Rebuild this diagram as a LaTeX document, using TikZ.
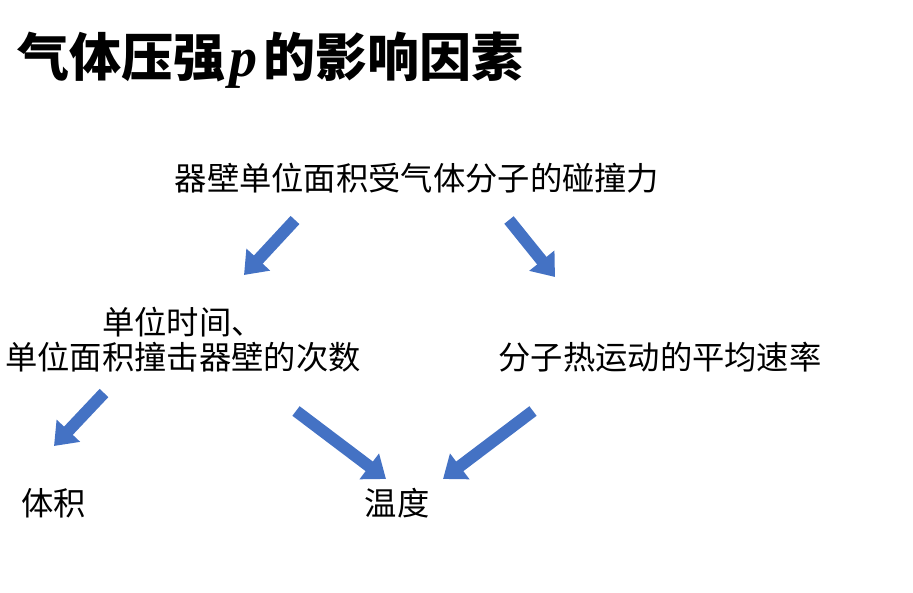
\documentclass[tikz,border=0pt]{standalone}
\usepackage{fontspec}
\newfontfamily\cjk{Noto Sans CJK SC}
\newfontfamily\pfont{Liberation Serif}
\usetikzlibrary{arrows.meta}
\definecolor{arrowblue}{HTML}{4472C4}
\tikzset{
  lbl/.style={font=\cjk\fontsize{32.3}{35}\selectfont, inner sep=0pt, align=center},
  blockarrow/.style={draw=arrowblue, line width=12pt, -{Triangle[width=31pt,length=21pt]}},
}
\begin{document}
\begin{tikzpicture}[x=1pt,y=-1pt]
\useasboundingbox (0,0) rectangle (913,592);
\node[anchor=west, inner sep=0pt, font=\cjk\bfseries\fontsize{52}{56}\selectfont] (title) at (17,60) {气体压强{\pfont\bfseries\itshape\fontsize{56}{60}\selectfont\kern4pt p\kern6pt}的影响因素};
\node[lbl] (force) at (417,178) {器壁单位面积受气体分子的碰撞力};
\node[lbl] (count) at (183,340) {单位时间、\\单位面积撞击器壁的次数};
\node[lbl] (speed) at (660,357) {分子热运动的平均速率};
\node[lbl] (vol) at (54,503) {体积};
\node[lbl] (temp) at (397,503) {温度};
\coordinate (a1s) at (295,220); \coordinate (a1e) at (244,275);
\coordinate (a2s) at (509,220); \coordinate (a2e) at (555,277);
\coordinate (a3s) at (104,393); \coordinate (a3e) at (54,446);
\coordinate (a4s) at (296,411); \coordinate (a4e) at (386,479);
\coordinate (a5s) at (533,411); \coordinate (a5e) at (443,479);
\draw[blockarrow] (a1s) -- (a1e);
\draw[blockarrow] (a2s) -- (a2e);
\draw[blockarrow] (a3s) -- (a3e);
\draw[blockarrow] (a4s) -- (a4e);
\draw[blockarrow] (a5s) -- (a5e);
\end{tikzpicture}
\end{document}
